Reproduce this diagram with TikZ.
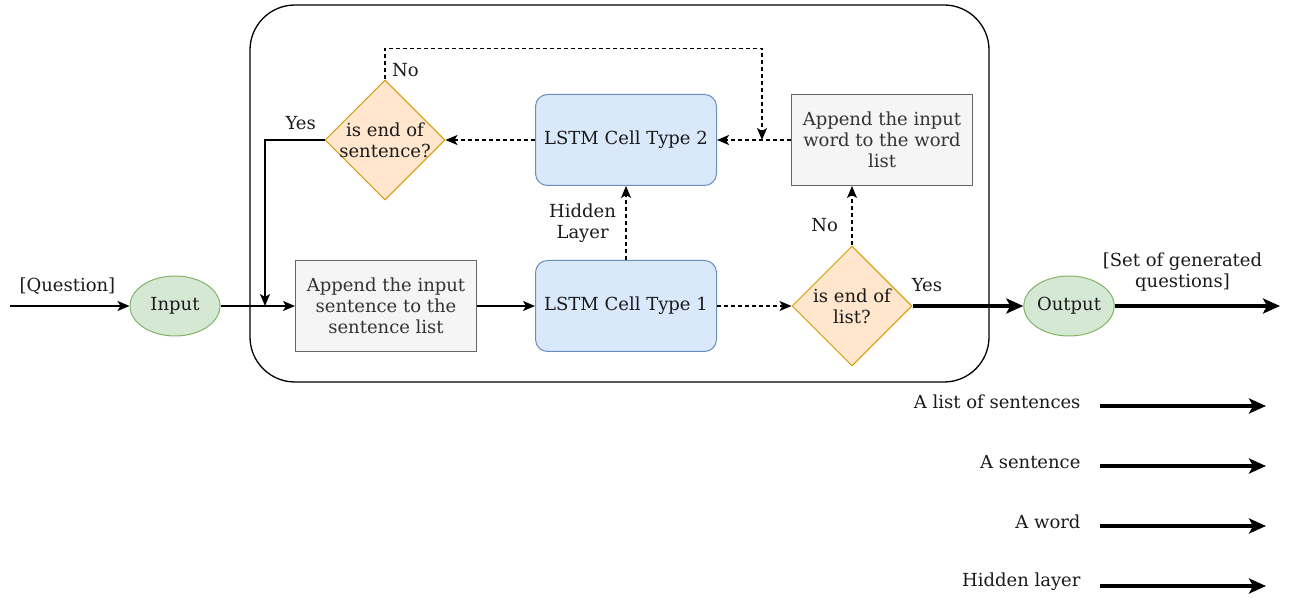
\documentclass[tikz,border=0pt]{standalone}
\usepackage{fontspec}
\setmainfont{DejaVu Serif}
\usetikzlibrary{arrows.meta,shapes.geometric}

\definecolor{grnfill}{HTML}{D5E8D4}
\definecolor{grnline}{HTML}{82B366}
\definecolor{bluefill}{HTML}{DAE8FC}
\definecolor{blueline}{HTML}{6C8EBF}
\definecolor{orgfill}{HTML}{FFE6CC}
\definecolor{orgline}{HTML}{D79B00}
\definecolor{grayfill}{HTML}{F5F5F5}
\definecolor{grayline}{HTML}{666666}
\definecolor{graytext}{HTML}{333333}
\definecolor{inktext}{HTML}{1A1A1A}

\tikzset{
  every node/.style={font=\fontsize{18}{21}\selectfont, text=inktext},
  ioshape/.style={ellipse, draw=grnline, fill=grnfill, line width=1pt,
    minimum width=90pt, minimum height=60pt, inner sep=0pt},
  cellbox/.style={rectangle, rounded corners=12pt, draw=blueline, fill=bluefill,
    line width=1pt, minimum width=181pt, minimum height=91pt, align=center},
  listbox/.style={rectangle, draw=grayline, fill=grayfill, text=graytext,
    line width=1pt, minimum width=181pt, minimum height=91pt, align=center},
  decide/.style={diamond, draw=orgline, fill=orgfill, line width=1pt,
    minimum width=120pt, minimum height=120pt, inner sep=0pt},
  flow/.style={line width=1.4pt, -{Stealth[length=12pt,width=10pt,inset=3pt]}},
  dashflow/.style={flow, dash pattern=on 4pt off 3pt},
  bigflow/.style={line width=3.6pt, -{Stealth[length=17pt,width=15pt,inset=4pt]}}
}

\begin{document}
\begin{tikzpicture}[x=1pt,y=1pt]
\useasboundingbox (0,0) rectangle (1289,597);

% outer frame
\draw[line width=1.3pt, rounded corners=45pt] (250,592) rectangle (989,215);

% nodes
\node[ioshape] (input) at (175,291) {Input};
\node[ioshape] (output) at (1069,291) {Output};
\node[listbox] (sentlist) at (386,291) {Append the input\\sentence to the\\sentence list};
\node[cellbox] (cellA) at (626,291) {LSTM Cell Type 1};
\node[cellbox] (cellB) at (626,457) {LSTM Cell Type 2};
\node[listbox] (wordlist) at (882,457) {Append the input\\word to the word\\list};
\node[decide, label={[align=center]center:is end of\\list?}] (endlist) at (852,291) {};
\node[decide, label={[align=center]center:is end of\\sentence?}] (endsent) at (385,457) {};

\coordinate (qstart) at (10,291);
\coordinate (qend) at (1280,291);
\coordinate (merge) at (265,291);
\coordinate (join) at (762,457);

% connectors
\draw[flow] (qstart) -- node[above=8pt, pos=0.48]{[Question]} (input);
\draw[flow] (input) -- (sentlist);
\draw[flow] (sentlist) -- (cellA);
\draw[dashflow] (cellA) -- (endlist);
\draw[bigflow] (endlist) -- node[above=9pt, pos=0.13]{Yes} (output);
\draw[bigflow] (output) -- node[above=10pt, pos=0.41, align=center]{[Set of generated\\questions]} (qend);
\draw[dashflow] (endlist.north) -- node[left=10pt, pos=0.35]{No} (endlist.north |- wordlist.south);
\draw[dashflow] (wordlist) -- (cellB);
\draw[dashflow] (cellA) -- node[left=6pt, align=center]{Hidden\\Layer} (cellB);
\draw[dashflow] (cellB) -- (endsent);
\draw[dashflow] (endsent.north) -- node[pos=0.3, right=3pt]{No} ++(0,31) -| (join);
\draw[flow] (endsent.west) -| node[pos=0.2, above=6pt]{Yes} (merge);

% legend
\foreach \txt/\yy in {A list of sentences/191, A sentence/131, A word/71, Hidden layer/11}{
  \node[anchor=east] (leg-\yy) at (1084,\yy+4) {\txt};
  \draw[bigflow, line width=3.2pt] (1100,\yy) -- (1266,\yy);
}
\end{tikzpicture}
\end{document}
